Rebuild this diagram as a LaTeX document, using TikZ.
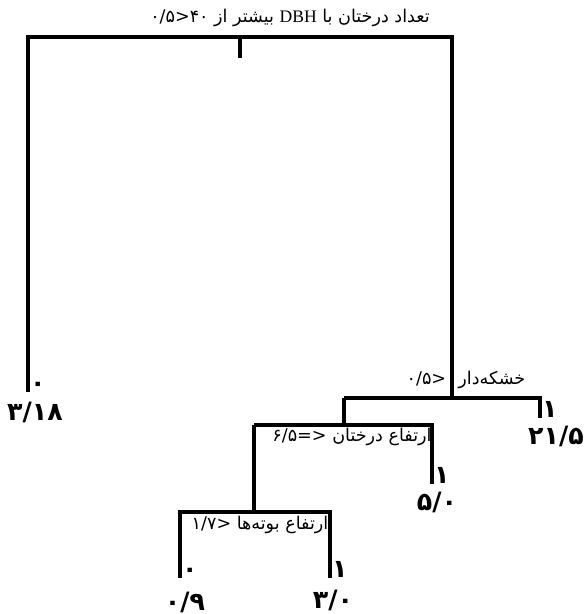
\documentclass[tikz,border=0pt]{standalone}
\usepackage{fontspec}
\setmainfont{Liberation Serif}
\newfontfamily\farsi[Script=Arabic]{DejaVu Sans}
\TeXXeTstate=1
\tikzset{
  branch/.style={line width=1.8pt},
  cond/.style={font=\farsi\normalsize, inner sep=1pt},
  leafcls/.style={font=\farsi\bfseries\Large, inner sep=0pt},
  leafval/.style={font=\farsi\bfseries\Large, inner sep=0pt},
}

\begin{document}
\begin{tikzpicture}[x=0.02cm, y=-0.02cm]
  \useasboundingbox (0,0) rectangle (586,614);

  % root split
  \coordinate (rootL) at (28,37);
  \coordinate (rootM) at (240,37);
  \coordinate (rootR) at (452,37);
  \coordinate (rootStem) at (240,58);
  \coordinate (leafA) at (28,392);
  \node[cond] (rootLab) at (290,18) {\beginR تعداد درختان با {\rmfamily\beginL DBH\endL} بیشتر از ۴۰<۰/۵\endR};
  \draw[branch] (rootM) -- (rootStem);

  % split on dead trees
  \coordinate (deadL) at (344,398);
  \coordinate (deadM) at (452,398);
  \coordinate (deadR) at (540,398);
  \coordinate (leafB) at (540,418);
  \node[cond] (deadLab) at (466,380) {\beginR خشکه‌دار\hspace{7pt}<۰/۵\endR};
  \draw[branch] (leafA) -- (rootL) -- (rootR) -- (deadM);
  \draw[branch] (deadL) -- (deadR) -- (leafB);

  % split on tree height
  \coordinate (treeL) at (254,425);
  \coordinate (treeM) at (344,425);
  \coordinate (treeR) at (432,425);
  \coordinate (leafC) at (432,484);
  \node[cond] (treeLab) at (352,437) {\beginR ارتفاع درختان <=۶/۵\endR};
  \draw[branch] (deadL) -- (treeM);
  \draw[branch] (treeL) -- (treeR) -- (leafC);

  % split on shrub height
  \coordinate (shrubL) at (180,512);
  \coordinate (shrubM) at (254,512);
  \coordinate (shrubR) at (330,512);
  \coordinate (leafD) at (180,578);
  \coordinate (leafE) at (330,578);
  \node[cond] (shrubLab) at (260,525) {\beginR ارتفاع بوته‌ها <۱/۷\endR};
  \draw[branch] (treeL) -- (shrubM);
  \draw[branch] (leafD) -- (shrubL) -- (shrubR) -- (leafE);

  % leaves
  \node[leafcls, anchor=south west] (clsA) at ([xshift=1pt]leafA) {۰};
  \node[leafval] (valA) at (35,412) {۳/۱۸};
  \node[leafcls, anchor=south west] (clsB) at ([xshift=1pt]leafB) {۱};
  \node[leafval] (valB) at (556,436) {۲۱/۵};
  \node[leafcls, anchor=south west] (clsC) at ([xshift=1pt]leafC) {۱};
  \node[leafval] (valC) at (437,502) {۵/۰};
  \node[leafcls, anchor=south west] (clsD) at ([xshift=1pt]leafD) {۰};
  \node[leafval] (valD) at (185,602) {۰/۹};
  \node[leafcls, anchor=south west] (clsE) at ([xshift=1pt]leafE) {۱};
  \node[leafval] (valE) at (333,600) {۳/۰};
\end{tikzpicture}
\end{document}
